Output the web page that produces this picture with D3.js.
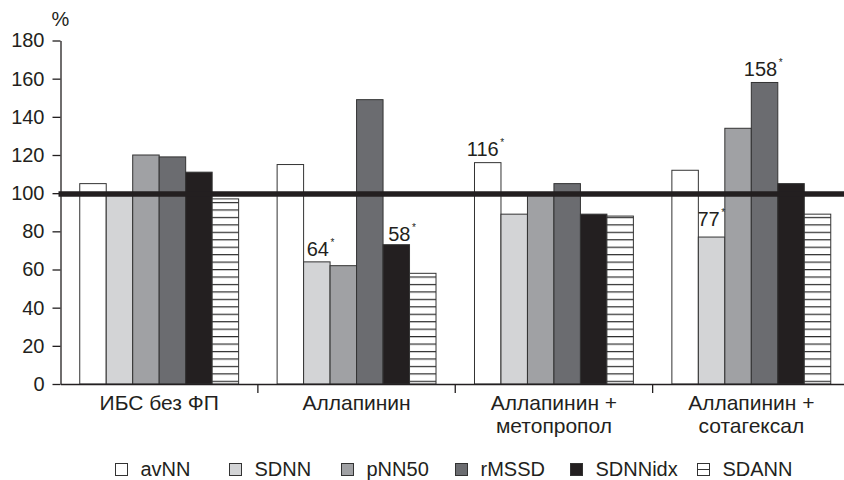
<!DOCTYPE html>
<html>
<head>
<meta charset="utf-8">
<script src="https://cdn.jsdelivr.net/npm/d3@7"></script>
<style>
  html, body { margin: 0; padding: 0; background: #fff; }
  svg { display: block; font-family: "Liberation Sans", Arial, Helvetica, sans-serif; }
</style>
</head>
<body>
<svg id="chart" width="844" height="480"></svg>
<script>
// ---- data ----
const categories = [
  ["ИБС без ФП"],
  ["Аллапинин"],
  ["Аллапинин +", "метопропол"],
  ["Аллапинин +", "сотагексал"]
];
const categoryKeys = categories.map(c => c.join(" "));
const seriesNames = ["avNN", "SDNN", "pNN50", "rMSSD", "SDNNidx", "SDANN"];
const avNN    = [105, 115, 116, 112];
const SDNN    = [100, 64, 89, 77];
const pNN50   = [120, 62, 99, 134];
const rMSSD   = [119, 149, 105, 158];
const SDNNidx = [111, 73, 89, 105];
const SDANN   = [97, 58, 88, 89];
const seriesValues = [avNN, SDNN, pNN50, rMSSD, SDNNidx, SDANN];
const yTicks = [0, 20, 40, 60, 80, 100, 120, 140, 160, 180];
const referenceValue = 100;
// annotations: label attached above a given bar
const annotations = [
  { cat: 1, series: "SDNN",    label: "64" },
  { cat: 1, series: "SDNNidx", label: "58" },
  { cat: 2, series: "avNN",    label: "116" },
  { cat: 3, series: "SDNN",    label: "77" },
  { cat: 3, series: "rMSSD",   label: "158" }
];

// ---- styles / layout ----
const ink = "#231f20";
const fills = {
  avNN: "#ffffff", SDNN: "#d3d4d6", pNN50: "#a0a1a4",
  rMSSD: "#6b6c70", SDNNidx: "#231f20", SDANN: "url(#hatch)"
};
const annOffset = { "64": [1, 6], "58": [3, 4], "116": [-5, 6.5], "77": [-3, 11], "158": [-4, 6.5] };
const legendX = [115, 229, 341, 455, 570, 697];

const svg = d3.select("#chart");
const defs = svg.append("defs");
const pat = defs.append("pattern")
  .attr("id", "hatch").attr("patternUnits", "userSpaceOnUse")
  .attr("width", 10).attr("height", 7.45).attr("y", 0.8);
pat.append("rect").attr("width", 10).attr("height", 7.45).attr("fill", "#fff");
pat.append("line").attr("x1", 0).attr("x2", 10).attr("y1", 0.6).attr("y2", 0.6)
  .attr("stroke", "#2b2b2b").attr("stroke-width", 1.2);

const x = d3.scaleBand().domain(categoryKeys).range([60.5, 850])
  .paddingInner(0.195).paddingOuter(0.0975);
const xs = d3.scaleBand().domain(seriesNames).range([0, x.bandwidth()]);
const y = d3.scaleLinear().domain([0, 180]).range([384, 40.5]);

// bars
const rows = [];
categoryKeys.forEach((c, ci) => {
  seriesNames.forEach((s, si) => rows.push({ cat: c, ci, series: s, value: seriesValues[si][ci] }));
});
svg.append("g").selectAll("rect").data(rows).join("rect")
  .attr("x", d => x(d.cat) + xs(d.series))
  .attr("y", d => y(d.value))
  .attr("width", xs.bandwidth())
  .attr("height", d => y(0) - y(d.value))
  .attr("fill", d => fills[d.series])
  .attr("stroke", "#333")
  .attr("stroke-width", 1);

// y axis
const yAxis = svg.append("g").attr("transform", "translate(60.5,0)")
  .call(d3.axisLeft(y).tickValues(yTicks).tickSize(8).tickPadding(8).tickSizeOuter(0));
yAxis.select(".domain").attr("stroke", ink).attr("stroke-width", 1.3);
yAxis.selectAll(".tick line").attr("stroke", ink).attr("stroke-width", 1.3);
yAxis.selectAll(".tick text").attr("fill", ink).attr("font-size", 20)
  .attr("font-family", "Liberation Sans, Arial, sans-serif");

// x axis
const xAxis = svg.append("g").attr("transform", `translate(0,${y(0)})`)
  .call(d3.axisBottom(x).tickSize(0).tickSizeOuter(0).tickFormat(""));
xAxis.select(".domain").attr("stroke", ink).attr("stroke-width", 1.3);
const half = x.step() * x.paddingInner() / 2;
svg.append("g").selectAll("line").data(categoryKeys.slice(1)).join("line")
  .attr("x1", d => x(d) - half).attr("x2", d => x(d) - half)
  .attr("y1", y(0)).attr("y2", y(0) + 9)
  .attr("stroke", ink).attr("stroke-width", 1.3);

// category labels
const catG = svg.append("g");
categories.forEach((lines, i) => {
  const t = catG.append("text")
    .attr("x", x(categoryKeys[i]) + x.bandwidth() / 2)
    .attr("y", 410).attr("text-anchor", "middle")
    .attr("font-size", 21).attr("fill", ink);
  lines.forEach((ln, li) => {
    t.append("tspan").attr("x", x(categoryKeys[i]) + x.bandwidth() / 2)
      .attr("y", 410 + li * 22.5).text(ln);
  });
});

// reference line at 100
svg.append("line")
  .attr("x1", 58.5).attr("x2", 844)
  .attr("y1", y(referenceValue) + 0.8).attr("y2", y(referenceValue) + 0.8)
  .attr("stroke", ink).attr("stroke-width", 5.5);

// % label
svg.append("text").attr("x", 60.5).attr("y", 26).attr("text-anchor", "middle")
  .attr("font-size", 20).attr("fill", ink).text("%");

// annotations
annotations.forEach(a => {
  const si = seriesNames.indexOf(a.series);
  const v = seriesValues[si][a.cat];
  const cx = x(categoryKeys[a.cat]) + xs(a.series) + xs.bandwidth() / 2 + annOffset[a.label][0];
  const by = y(v) - annOffset[a.label][1];
  const t = svg.append("text").attr("x", cx).attr("y", by).attr("text-anchor", "middle")
    .attr("font-size", 20).attr("fill", ink).text(a.label);
  const w = t.node().getComputedTextLength();
  svg.append("text").attr("x", cx + w / 2 + 1.5).attr("y", by - 10)
    .attr("font-size", 10).attr("fill", ink).text("*");
});

// legend
const lg = svg.append("g");
seriesNames.forEach((s, i) => {
  const gx = legendX[i];
  lg.append("rect").attr("x", gx + 0.5).attr("y", 463.5).attr("width", 12).attr("height", 12)
    .attr("fill", s === "SDANN" ? "#fff" : fills[s]).attr("stroke", "#333").attr("stroke-width", 1);
  if (s === "SDANN") {
    lg.append("line").attr("x1", gx + 0.5).attr("x2", gx + 12.5)
      .attr("y1", 469.5).attr("y2", 469.5).attr("stroke", "#333").attr("stroke-width", 1);
  }
  lg.append("text").attr("x", gx + 25.5).attr("y", 475.7)
    .attr("font-size", 20).attr("fill", ink).text(s);
});
</script>
</body>
</html>
